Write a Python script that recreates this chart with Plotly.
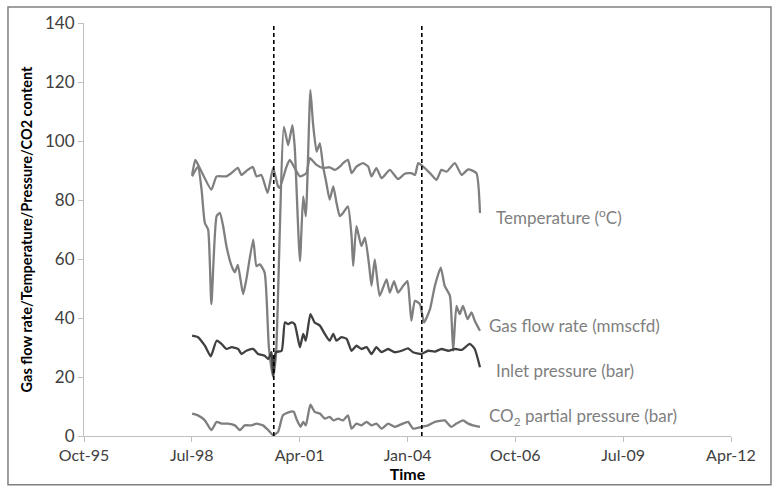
import numpy as np
import pandas as pd
import plotly.graph_objects as go

BASE = pd.Timestamp("1998-07-01")

# months after Jul-1998, value
temp_m = [0.1, 1.1, 2.4, 6.0, 7.6, 10.6, 12.2, 14.1, 15.2, 17.1, 18.7, 19.8, 21.3, 23.2, 24.9, 26.4, 26.9,
          29.0, 30.0, 33.1, 35.1, 36.1, 38.2, 40.2, 42.2, 43.8, 45.3, 46.3, 47.8, 48.9, 50.4, 52.4, 54.0,
          55.0, 56.5, 58.1, 60.6, 63.1, 65.2, 67.2, 68.3, 69.3, 70.8, 72.9, 74.9, 76.4, 78.0, 80.5, 82.6,
          84.6, 87.1, 88.2]
temp_v = [88.5, 93.6, 90.9, 83.5, 88, 88, 89.2, 90.9, 88.5, 90.2, 91.2, 88, 88.5, 82.4, 90.9, 84.6, 84.1,
          91.3, 93.6, 88, 89.1, 94.2, 91.9, 90.8, 91.1, 90.2, 91.3, 92.5, 93.6, 89.1, 91.3, 92.5, 91.3,
          88, 90.8, 87.4, 90.2, 87.1, 88.9, 89.1, 88.5, 92.5, 91.3, 89.1, 86.8, 90.2, 89.6, 92.5, 88.5,
          90.4, 89.1, 75.6]

gas_m = [0.1, 1.9, 3.0, 4.0, 5.0, 6.0, 7.6, 8.6, 9.6, 10.6, 12.2, 13.2, 14.1, 15.7, 16.7, 18.8, 19.8,
         20.8, 22.3, 23.6, 24.9, 25.8, 28.2, 29.5, 30.8, 31.5, 33.1, 34.1, 34.9, 36.3, 37.1, 38.2, 39.2,
         40.2, 41.2, 42.2, 43.3, 44.3, 45.3, 46.3, 47.8, 48.9, 49.4, 50.4, 51.9, 53.0, 54.3, 55.0, 56.0,
         57.5, 59.6, 60.6, 61.9, 63.1, 64.7, 66.0, 66.7, 67.2, 68.3, 69.8, 71.1, 72.9, 74.4, 76.2, 77.4,
         79.0, 80.0, 81.0, 82.0, 83.0, 84.4, 85.6, 86.6, 88.2]
gas_v = [88, 91.3, 83.5, 72.2, 70, 44.7, 74.5, 75.6, 71.1, 64.4, 57.6, 55.5, 58, 48.1, 53.1, 66.6, 57.6,
         58.2, 55.4, 30, 20, 28, 104.8, 98.6, 105.4, 98, 59.3, 81.2, 74.5, 117.2, 106, 96.4, 99.2,
         91.3, 85.7, 80.1, 84.6, 79, 74.5, 75.6, 77.8, 67.7, 57.6, 71.1, 64.4, 67.2, 57.6, 50.9, 59.9,
         47.5, 53.1, 48.6, 52.5, 48.6, 50.9, 52.5, 45.3, 39.1, 45.8, 44.7, 38.5, 43, 50.9, 57.1, 50.9,
         47.5, 28.9, 44.1, 41.3, 44.1, 39.6, 41.9, 39.1, 35.7]

inlet_m = [0.1, 1.9, 4.0, 5.8, 7.6, 9.1, 10.6, 12.2, 14.2, 15.2, 16.7, 18.8, 20.3, 22.3, 23.4, 24.4, 24.9,
           25.7, 27.5, 28.5, 29.5, 30.5, 31.5, 33.1, 34.1, 34.9, 36.3, 37.6, 39.2, 40.7, 42.2, 43.3, 44.3,
           45.8, 47.4, 48.9, 50.4, 51.9, 53.5, 55.0, 56.5, 58.1, 60.1, 62.1, 64.2, 66.2, 67.7, 70.3, 72.3,
           74.4, 76.4, 78.5, 80.5, 82.6, 85.1, 86.6, 88.2]
inlet_v = [34, 33.5, 30.6, 27, 32.3, 31.2, 29.5, 30.1, 29.5, 27.8, 28.9, 29.5, 27.8, 27.2, 26.1, 28.4, 20.5,
           28.4, 28.9, 38.5, 37.9, 38.5, 37.9, 30.1, 34.6, 32.3, 41.3, 38.5, 37.4, 34.6, 32.3, 34.6, 32.3,
           33.5, 32.9, 28.9, 30.6, 29.5, 30.1, 27.8, 30.1, 28.4, 29.5, 28.4, 28.9, 29.7, 28.4, 27.8, 28.9,
           28.6, 29.5, 28.9, 29.5, 29.2, 31.2, 29.5, 23.3]

co2_m = [0.1, 1.9, 4.0, 6.0, 7.6, 9.1, 11.1, 13.2, 14.7, 16.2, 18.3, 19.8, 21.8, 23.4, 24.9, 26.4, 27.9,
         30.0, 31.2, 32.0, 33.3, 34.1, 34.9, 36.3, 37.6, 39.2, 40.7, 42.2, 43.3, 44.8, 46.3, 47.8, 48.9,
         50.4, 51.9, 53.5, 55.0, 56.5, 58.1, 60.1, 62.1, 64.2, 66.2, 67.7, 70.3, 72.3, 74.4, 77.4, 79.4,
         81.0, 83.0, 84.6, 86.1, 88.2]
co2_v = [7.6, 7, 5.3, 2, 4.8, 4.2, 4.2, 3.6, 2, 3.6, 3.6, 4.2, 3.6, 2, 0.3, 1.4, 7,
         8.2, 8.2, 5.9, 3.1, 4.8, 3.6, 10.6, 8.2, 7.6, 5.9, 6.5, 5.3, 5.9, 5.3, 7, 2.5,
         4.2, 3.6, 4.8, 3.6, 4.2, 2.5, 4.2, 3.1, 4, 4.8, 2.5, 3.1, 3.6, 4.8, 5.3, 3.1,
         4.2, 5.3, 4.2, 3.6, 3.1]

event_m = [25.1, 70.4]

tick_dates = ["1995-10-01", "1998-07-01", "2001-04-01", "2004-01-01", "2006-10-01", "2009-07-01", "2012-04-01"]
tick_text = ["Oct-95", "Jul-98", "Apr-01", "Jan-04", "Oct-06", "Jul-09", "Apr-12"]

labels = ["Temperature (<sup>o</sup>C)", "Gas flow rate (mmscfd)", "Inlet pressure (bar)",
          "CO<sub>2</sub> partial pressure (bar)"]
label_m = [92.5, 90.4, 92.5, 90.4]
label_v = [74.5, 37.4, 22.2, 6.5]


def to_dates(months):
    return BASE + pd.to_timedelta(np.array(months) * 30.4375, unit="D")


GRAY = "#7f7f7f"
DARK = "#404040"

fig = go.Figure()
series = [(temp_m, temp_v, GRAY), (gas_m, gas_v, GRAY), (inlet_m, inlet_v, DARK), (co2_m, co2_v, GRAY)]
for m, v, c in series:
    fig.add_trace(go.Scatter(x=to_dates(m), y=v, mode="lines",
                             line=dict(color=c, width=2.3, shape="spline", smoothing=0.5),
                             showlegend=False, hoverinfo="skip"))

for em in event_m:
    d = to_dates([em, em])
    fig.add_trace(go.Scatter(x=d, y=[0, 140], mode="lines",
                             line=dict(color="black", width=1.6, dash="4px,3px"),
                             showlegend=False, hoverinfo="skip"))

for t, m, v in zip(labels, label_m, label_v):
    fig.add_annotation(x=to_dates([m])[0], y=v, text=t, showarrow=False, xanchor="left",
                       yanchor="middle", font=dict(family="Lato", size=17, color=GRAY))

fig.add_shape(type="rect", xref="paper", yref="paper", x0=-0.1175, x1=1.0618, y0=-0.118, y1=1.0386,
              line=dict(color="#808080", width=1.5), layer="below")

fig.update_layout(
    width=773, height=487,
    margin=dict(l=84, r=42, t=22, b=50),
    plot_bgcolor="white", paper_bgcolor="white",
    font=dict(family="Lato", color=DARK),
    xaxis=dict(type="date", range=[tick_dates[0], tick_dates[-1]], tickvals=tick_dates, ticktext=tick_text,
               showgrid=False, zeroline=False, showline=True, linecolor="#bfbfbf", linewidth=1,
               ticks="outside", tickcolor="#bfbfbf", ticklen=5, tickfont=dict(size=16, color=DARK),
               title=dict(text="<b>Time</b>", font=dict(size=16, color="black"), standoff=0)),
    yaxis=dict(range=[0, 140], tickvals=[0, 20, 40, 60, 80, 100, 120, 140],
               showgrid=False, zeroline=False, showline=True, linecolor="#bfbfbf", linewidth=1,
               ticks="outside", tickcolor="#bfbfbf", ticklen=5, tickfont=dict(size=17, color=DARK),
               title=dict(text="<b>Gas flow rate/Temperature/Pressure/CO2 content</b>",
                          font=dict(size=14.5, color="black"), standoff=8)),
)

fig.write_html("out.html")
